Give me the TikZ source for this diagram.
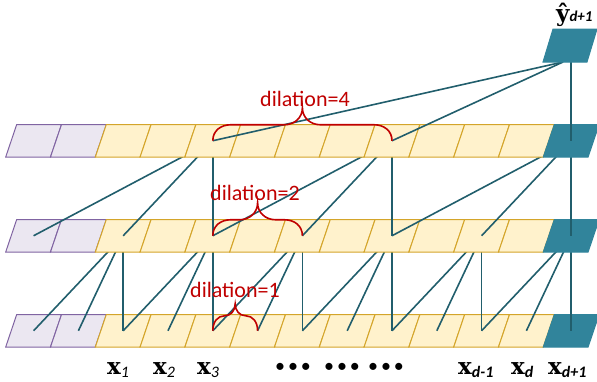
\documentclass[tikz,border=0pt]{standalone}
\usepackage{fontspec}
\setmainfont{Carlito}
\newfontfamily\xfont{DejaVu Serif}
\newfontfamily\dotfont{Carlito}[LetterSpace=15]
\usepackage{tikz}

\definecolor{padfill}{HTML}{EBE7F1}
\definecolor{paddraw}{HTML}{8064A2}
\definecolor{infill}{HTML}{FFF2CC}
\definecolor{indraw}{HTML}{D4A52A}
\definecolor{outfill}{HTML}{31849B}
\definecolor{linkcol}{HTML}{215E6C}
\definecolor{dilred}{HTML}{C00000}

\tikzset{
  padcell/.style={fill=padfill,draw=paddraw,line width=1pt},
  incell/.style={fill=infill,draw=indraw,line width=1pt},
  outcell/.style={fill=outfill,draw=outfill,line width=1pt},
  link/.style={draw=linkcol,line width=1.6pt},
  brc/.style={draw=dilred,line width=1.6pt},
  dillab/.style={text=dilred,font=\fontsize{22}{26}\selectfont,inner sep=0,anchor=base},
  xlabel/.style={inner sep=0,anchor=base west},
  dotlab/.style={inner sep=0,anchor=base,font=\dotfont\fontsize{20}{22}\selectfont},
  % one row of 13 cells, origin at the row's top
  cellrow/.pic={
    \foreach \cl in {0,1}
      \path[padcell] (5.7+44.8*\cl,32.5) -- ++(44.8,0) -- ++(11,-32.5) -- ++(-44.8,0) -- cycle;
    \foreach \cl in {2,...,11}
      \path[incell] (5.7+44.8*\cl,32.5) -- ++(44.8,0) -- ++(11,-32.5) -- ++(-44.8,0) -- cycle;
    \path[outcell] (5.7+44.8*12,32.5) -- ++(44.8,0) -- ++(11,-32.5) -- ++(-44.8,0) -- cycle;
  }
}

% x with a lowered italic index
\newcommand{\xlab}[1]{{\xfont\bfseries\fontsize{23}{26}\selectfont x}\raisebox{-3.5pt}{\fontsize{16}{18}\selectfont\itshape #1}}

\begin{document}
\begin{tikzpicture}[x=1pt,y=-1pt]
\useasboundingbox (0,0) rectangle (597,381);
% cell centres
\foreach \rw/\yt in {1/124.5,2/219.5,3/314.5}
  \foreach \cl in {0,...,12}
    \coordinate (r\rw-\cl) at (33.6+44.8*\cl,\yt+16.25);
\coordinate (yin) at (563,62);

% bottom row and dilation 1
\pic at (0,314.5) {cellrow};
\foreach \t in {2,4,...,12}{
  \pgfmathtruncatemacro\ta{\t-1}
  \pgfmathtruncatemacro\tb{\t-2}
  \draw[link] (r3-\tb) -- (r2-\t);
  \draw[link] (r3-\ta) -- (r2-\t);
  \draw[link] (r3-\t) -- (r2-\t);
}
% middle row and dilation 2
\pic at (0,219.5) {cellrow};
\foreach \t in {4,8,12}{
  \pgfmathtruncatemacro\ta{\t-2}
  \pgfmathtruncatemacro\tb{\t-4}
  \draw[link] (r2-\tb) -- (r1-\t);
  \draw[link] (r2-\ta) -- (r1-\t);
  \draw[link] (r2-\t) -- (r1-\t);
}
% top row and dilation 4
\pic at (0,124.5) {cellrow};
\draw[link] (r1-4) -- (yin);
\draw[link] (r1-8) -- (yin);
\draw[link] (r1-12) -- (r1-12 |- yin);
% output cell
\path[outcell] (543,62) -- (587,62) -- (597,29) -- (553,29) -- cycle;

% braces
\draw[brc] (r1-4) .. controls +(0,-10) and +(-10,0) .. ++(18,-16) -- ++(53.6,0)
  .. controls +(10,0) and +(0,10) .. ++(18,-17)
  .. controls +(0,10) and +(-10,0) .. ++(18,17) -- ++(53.6,0)
  .. controls +(10,0) and +(0,-10) .. (r1-8);
\draw[brc] (r2-4) .. controls +(0,-10) and +(-10,0) .. ++(18,-16) -- ++(8.8,0)
  .. controls +(10,0) and +(0,10) .. ++(18,-17)
  .. controls +(0,10) and +(-10,0) .. ++(18,17) -- ++(8.8,0)
  .. controls +(10,0) and +(0,-10) .. (r2-6);
\draw[brc] (r3-4) .. controls +(0,-9) and +(-7,0) .. ++(12,-15)
  .. controls +(6,0) and +(0,7) .. ++(10.4,-12)
  .. controls +(0,7) and +(-6,0) .. ++(10.4,12)
  .. controls +(7,0) and +(0,-9) .. (r3-5);

% labels
\node[dillab] (dil4) at (305,106) {dilation=4};
\node[dillab] (dil2) at (255,200) {dilation=2};
\node[dillab] (dil1) at (235,297) {dilation=1};

\node[xlabel] (yhat) at (556,21) {{\xfont\bfseries\fontsize{23}{26}\selectfont ŷ}{\fontsize{15}{17}\selectfont\bfseries\itshape d+1}};

\node[xlabel] (x1) at (107,374) {\xlab{1}};
\node[xlabel] (x2) at (153,374) {\xlab{2}};
\node[xlabel] (x3) at (197,374) {\xlab{3}};
\node[xlabel] (xdm) at (458,374) {\xlab{\bfseries d-1}};
\node[xlabel] (xd) at (511,374) {\xlab{\bfseries d}};
\node[xlabel] (xdp) at (548,374) {\xlab{\bfseries d+1}};
\node[dotlab] (dots1) at (293,372) {•••};
\node[dotlab] (dots2) at (342,372) {•••};
\node[dotlab] (dots3) at (386,372) {•••};
\end{tikzpicture}
\end{document}
